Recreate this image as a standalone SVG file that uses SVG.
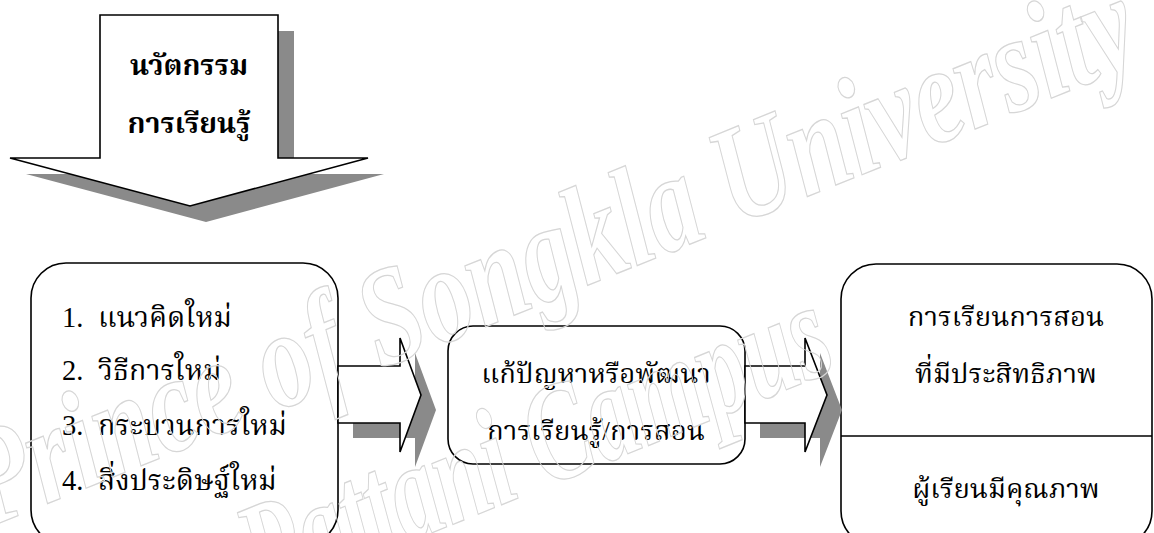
<svg xmlns="http://www.w3.org/2000/svg" width="1154" height="533" viewBox="0 0 1154 533">
  <defs>
    <style>
      .box { fill: #ffffff; stroke: #000000; stroke-width: 1.6; }
      .arrow { fill: #ffffff; stroke: #000000; stroke-width: 1.6; stroke-linejoin: miter; }
      .shadow { fill: #8a8a8a; stroke: none; }
      .t { font-family: "Liberation Serif", "Noto Serif Thai", "Noto Sans Thai", serif; font-size: 27.5px; fill: #000000; }
      .tl { font-family: "Liberation Serif", "Noto Serif Thai", "Noto Sans Thai", serif; font-size: 28.5px; fill: #000000; }
      .tb { font-family: "Liberation Serif", "Noto Serif Thai", "Noto Sans Thai", serif; font-size: 28.5px; font-weight: bold; fill: #000000; text-anchor: middle; }
      .c { text-anchor: middle; }
      .wm { font-family: "Liberation Serif", serif; font-style: italic; font-weight: bold; font-size: 140px; fill: none; stroke: #d6d6d6; stroke-width: 1.3; }
    </style>
  </defs>
  <rect width="1154" height="533" fill="#ffffff"/>

  <g id="innovation">
    <polygon class="shadow" points="116,31 294,31 294,174 384,174 206,222 26,174 116,174"/>
    <polygon class="arrow" points="100,15 278,15 278,158 368,158 190,206 10,158 100,158"/>
    <text class="tb" x="189" y="75">นวัตกรรม</text>
    <text class="tb" x="189" y="133">การเรียนรู้</text>
  </g>

  <g id="innovations-list">
    <rect class="box" x="31" y="263" width="307" height="282" rx="35" ry="35"/>
    <text class="tl" y="327"><tspan x="62">1.</tspan><tspan x="98">แนวคิดใหม่</tspan></text>
    <text class="tl" y="380"><tspan x="62">2.</tspan><tspan x="98">วิธีการใหม่</tspan></text>
    <text class="tl" y="435"><tspan x="62">3.</tspan><tspan x="98">กระบวนการใหม่</tspan></text>
    <text class="tl" y="490"><tspan x="62">4.</tspan><tspan x="98">สิ่งประดิษฐ์ใหม่</tspan></text>
  </g>

  <g id="solve">
    <rect class="box" x="448" y="326" width="297" height="138" rx="25" ry="25"/>
    <text class="t c" x="596" y="383">แก้ปัญหาหรือพัฒนา</text>
    <text class="t c" x="596" y="440">การเรียนรู้/การสอน</text>
  </g>

  <g id="outcome">
    <rect class="box" x="841" y="264" width="311" height="282" rx="35" ry="35"/>
    <line x1="841" y1="436" x2="1152" y2="436" stroke="#000" stroke-width="1.6"/>
    <text class="t c" x="1006" y="326">การเรียนการสอน</text>
    <text class="t c" x="1006" y="383">ที่มีประสิทธิภาพ</text>
    <text class="t c" x="1006" y="498">ผู้เรียนมีคุณภาพ</text>
  </g>

  <g id="connectors">
    <polygon class="shadow" points="353,381 415,381 415,353 436,410 415,467 415,438 353,438"/>
    <polygon class="arrow" points="338,366 400,366 400,338 421,395 400,452 400,423 338,423"/>
    <polygon class="shadow" points="760,381 820,381 820,353 842,410 820,467 820,438 760,438"/>
    <polygon class="arrow" points="745,366 805,366 805,338 827,395 805,452 805,423 745,423"/>
  </g>

  <g id="watermark" transform="translate(0,523) rotate(-22)">
    <text class="wm" x="-15" y="0" textLength="1251" lengthAdjust="spacingAndGlyphs">Prince of Songkla University</text>
    <text class="wm" x="214" y="171" textLength="623" lengthAdjust="spacingAndGlyphs">Pattani Campus</text>
  </g>
</svg>
